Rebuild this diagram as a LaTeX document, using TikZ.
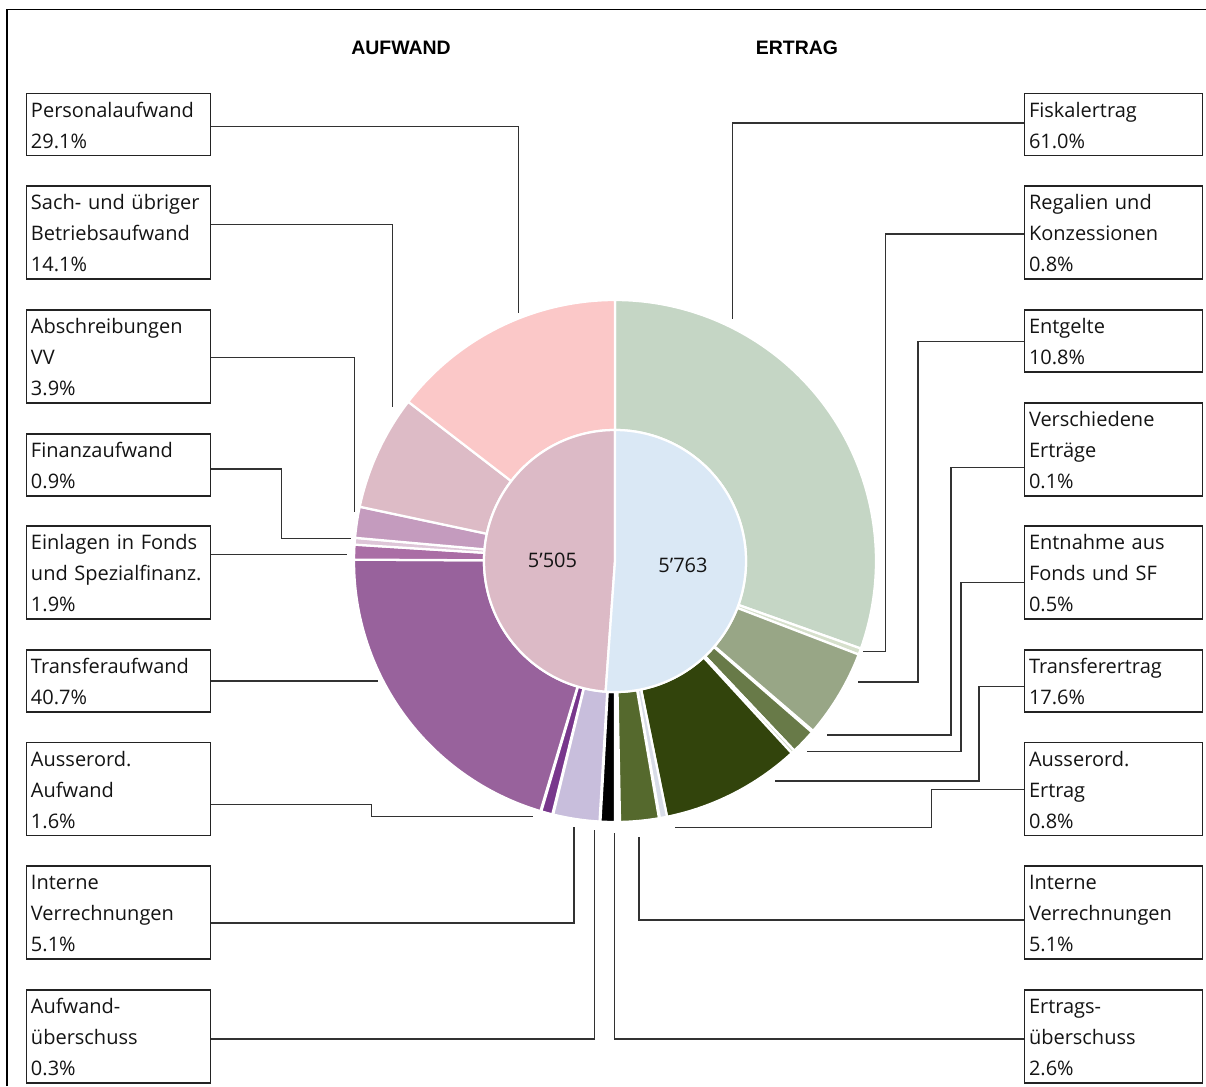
\documentclass[tikz,border=0pt]{standalone}
\usepackage{fontspec}
\setmainfont{Open Sans}
\newfontfamily\titlefont{Liberation Sans}
\definecolor{boxc}{RGB}{35,35,35}
\definecolor{connc}{RGB}{50,50,50}
\definecolor{txtc}{RGB}{20,20,20}
\definecolor{cPers}{RGB}{251,200,200}
\definecolor{cSach}{RGB}{221,187,198}
\definecolor{cAbs}{RGB}{196,155,190}
\definecolor{cFin}{RGB}{222,198,216}
\definecolor{cEinl}{RGB}{170,110,165}
\definecolor{cTrA}{RGB}{152,98,156}
\definecolor{cAoA}{RGB}{120,55,140}
\definecolor{cIvA}{RGB}{200,190,220}
\definecolor{cUeb}{RGB}{0,0,0}
\definecolor{cFis}{RGB}{197,214,197}
\definecolor{cReg}{RGB}{214,224,204}
\definecolor{cEnt}{RGB}{152,166,134}
\definecolor{cOlm}{RGB}{104,122,72}
\definecolor{cStr}{RGB}{210,218,200}
\definecolor{cTrE}{RGB}{50,68,12}
\definecolor{cAoE}{RGB}{216,220,232}
\definecolor{cIvE}{RGB}{85,105,45}
\definecolor{cInA}{RGB}{220,186,198}
\definecolor{cInE}{RGB}{218,232,245}
\newcommand{\lstrut}{\rule[-5.5pt]{0pt}{23.3pt}}
\newcommand{\ringseg}[3]{\filldraw[seg,fill=#3] (#1:131) arc[start angle=#1,end angle=#2,radius=131] -- (#2:261) arc[start angle=#2,end angle=#1,radius=261] -- cycle;}
\tikzset{
  box/.style={draw=boxc, line width=1.25pt, anchor=north west, inner xsep=3.5pt, inner ysep=0pt,
    align=left, text=txtc, font=\fontsize{15pt}{23.3pt}\selectfont},
  lbox/.style={box, text width=131pt},
  rbox/.style={box, text width=126.5pt},
  conn/.style={draw=connc, line width=1.1pt},
  seg/.style={draw=white, line width=1.7pt, line join=round},
  ttl/.style={font=\titlefont\bfseries\fontsize{14.6pt}{17pt}\selectfont, text=black, inner sep=0pt},
  sumlbl/.style={font=\fontsize{15pt}{17pt}\selectfont, text=txtc, inner sep=0pt}
}
\begin{document}
\begin{tikzpicture}[x=0.75pt,y=-0.75pt]
\useasboundingbox[fill=white] (0,0) rectangle (1206,1086);
% frame
\draw[line width=1.4pt, black] (7,1086) -- (7,9.5) -- (1206,9.5);
% titles
\node[ttl] (tA) at (401,48) {AUFWAND};
\node[ttl] (tE) at (797,48) {ERTRAG};

% pie
\begin{scope}[shift={(615,561)}, yscale=-1]
  % outer ring, Ertrag side
  \ringseg{-19.6}{90}{cFis}
  \ringseg{-21.0}{-19.6}{cReg}
  \ringseg{-40.6}{-21.0}{cEnt}
  \ringseg{-46.6}{-41.0}{cOlm}
  \ringseg{-47.4}{-46.6}{cStr}
  \ringseg{-78.5}{-47.4}{cTrE}
  \ringseg{-80.1}{-78.5}{cAoE}
  \ringseg{-88.9}{-80.3}{cIvE}
  % outer ring, Aufwand side
  \ringseg{266.8}{270.0}{cUeb}
  \ringseg{256.3}{266.6}{cIvA}
  \ringseg{253.6}{256.1}{cAoA}
  \ringseg{179.7}{253.4}{cTrA}
  \ringseg{176.4}{179.7}{cEinl}
  \ringseg{174.9}{176.4}{cFin}
  \ringseg{168.0}{174.9}{cAbs}
  \ringseg{142.4}{168.0}{cSach}
  \ringseg{90}{142.4}{cPers}
  % inner pie
  \filldraw[seg, fill=cInA] (0,0) -- (90:131) arc[start angle=90,end angle=265.9,radius=131] -- cycle;
  \filldraw[seg, fill=cInE] (0,0) -- (-94.1:131) arc[start angle=-94.1,end angle=90,radius=131] -- cycle;
\end{scope}
\node[sumlbl] (sA) at (552.5,560) {5'505};
\node[sumlbl] (sE) at (683,565) {5'763};

% left boxes
\node[lbox] (L1) at (25.5,92.5)  {\lstrut Personalaufwand\\\lstrut 29.1\%};
\node[lbox] (L2) at (25.5,185)   {\lstrut Sach- und übriger\\\lstrut Betriebsaufwand\\\lstrut 14.1\%};
\node[lbox] (L3) at (25.5,309)   {\lstrut Abschreibungen\\\lstrut VV\\\lstrut 3.9\%};
\node[lbox] (L4) at (25.5,433)   {\lstrut Finanzaufwand\\\lstrut 0.9\%};
\node[lbox] (L5) at (25.5,525)   {\lstrut Einlagen in Fonds\\\lstrut und Spezialfinanz.\\\lstrut 1.9\%};
\node[lbox] (L6) at (25.5,649)   {\lstrut Transferaufwand\\\lstrut 40.7\%};
\node[lbox] (L7) at (25.5,741.5) {\lstrut Ausserord.\\\lstrut Aufwand\\\lstrut 1.6\%};
\node[lbox] (L8) at (25.5,865)   {\lstrut Interne\\\lstrut Verrechnungen\\\lstrut 5.1\%};
\node[lbox] (L9) at (25.5,989)   {\lstrut Aufwand-\\\lstrut überschuss\\\lstrut 0.3\%};

% right boxes
\node[rbox] (R1) at (1023.5,92.5) {\lstrut Fiskalertrag\\\lstrut 61.0\%};
\node[rbox] (R2) at (1023.5,185)  {\lstrut Regalien und\\\lstrut Konzessionen\\\lstrut 0.8\%};
\node[rbox] (R3) at (1023.5,309)  {\lstrut Entgelte\\\lstrut 10.8\%};
\node[rbox] (R4) at (1023.5,402)  {\lstrut Verschiedene\\\lstrut Erträge\\\lstrut 0.1\%};
\node[rbox] (R5) at (1023.5,525)  {\lstrut Entnahme aus\\\lstrut Fonds und SF\\\lstrut 0.5\%};
\node[rbox] (R6) at (1023.5,649)  {\lstrut Transferertrag\\\lstrut 17.6\%};
\node[rbox] (R7) at (1023.5,741.5){\lstrut Ausserord.\\\lstrut Ertrag\\\lstrut 0.8\%};
\node[rbox] (R8) at (1023.5,865)  {\lstrut Interne\\\lstrut Verrechnungen\\\lstrut 5.1\%};
\node[rbox] (R9) at (1023.5,989)  {\lstrut Ertrags-\\\lstrut überschuss\\\lstrut 2.6\%};

% connector coordinates
\coordinate (sL1) at (0,126.5);  \coordinate (eL1) at (518.5,313);
\coordinate (sL2) at (0,224.5);  \coordinate (eL2) at (392.5,407);
\coordinate (sL3) at (0,357.5);  \coordinate (eL3) at (354.5,512);
\coordinate (sL4) at (0,469);    \coordinate (kL4) at (281.5,538.5); \coordinate (eL4) at (351,538.5);
\coordinate (eL5) at (347,554.5);
\coordinate (eL6) at (377.5,681);
\coordinate (sL7) at (0,804.5);  \coordinate (kL7) at (371.5,816.5); \coordinate (eL7) at (533,816.5);
\coordinate (sL8) at (0,923);    \coordinate (eL8) at (574,827);
\coordinate (sL9) at (0,1039);   \coordinate (eL9) at (594.5,830);
\coordinate (sR1) at (0,123);    \coordinate (eR1) at (732.5,319);
\coordinate (sR2) at (0,234);    \coordinate (kR2) at (885.5,651.5); \coordinate (eR2) at (862.5,651.5);
\coordinate (sR3) at (0,341.5);  \coordinate (kR3) at (918,682);     \coordinate (eR3) at (858,682);
\coordinate (sR4) at (0,467.5);  \coordinate (kR4) at (951,735);     \coordinate (eR4) at (827,735);
\coordinate (sR5) at (0,582.5);  \coordinate (kR5) at (961,751.5);   \coordinate (eR5) at (807,751.5);
\coordinate (sR6) at (0,686.5);  \coordinate (kR6) at (979,781);     \coordinate (eR6) at (775,781);
\coordinate (sR7) at (0,789.5);  \coordinate (kR7) at (931.5,827.5); \coordinate (eR7) at (675,827.5);
\coordinate (sR8) at (0,920);    \coordinate (eR8) at (639,837);
\coordinate (sR9) at (0,1039);   \coordinate (eR9) at (614.5,833);

% connectors left
\draw[conn] (L1.east |- sL1) -| (eL1);
\draw[conn] (L2.east |- sL2) -| (eL2);
\draw[conn] (L3.east |- sL3) -| (eL3);
\draw[conn] (L4.east |- sL4) -| (kL4) -- (eL4);
\draw[conn] (L5.east |- eL5) -- (eL5);
\draw[conn] (L6.east |- eL6) -- (eL6);
\draw[conn] (L7.east |- sL7) -| (kL7) -- (eL7);
\draw[conn] (L8.east |- sL8) -| (eL8);
\draw[conn] (L9.east |- sL9) -| (eL9);
% connectors right
\draw[conn] (R1.west |- sR1) -| (eR1);
\draw[conn] (R2.west |- sR2) -| (kR2) -- (eR2);
\draw[conn] (R3.west |- sR3) -| (kR3) -- (eR3);
\draw[conn] (R4.west |- sR4) -| (kR4) -- (eR4);
\draw[conn] (R5.west |- sR5) -| (kR5) -- (eR5);
\draw[conn] (R6.west |- sR6) -| (kR6) -- (eR6);
\draw[conn] (R7.west |- sR7) -| (kR7) -- (eR7);
\draw[conn] (R8.west |- sR8) -| (eR8);
\draw[conn] (R9.west |- sR9) -| (eR9);
\end{tikzpicture}
\end{document}
